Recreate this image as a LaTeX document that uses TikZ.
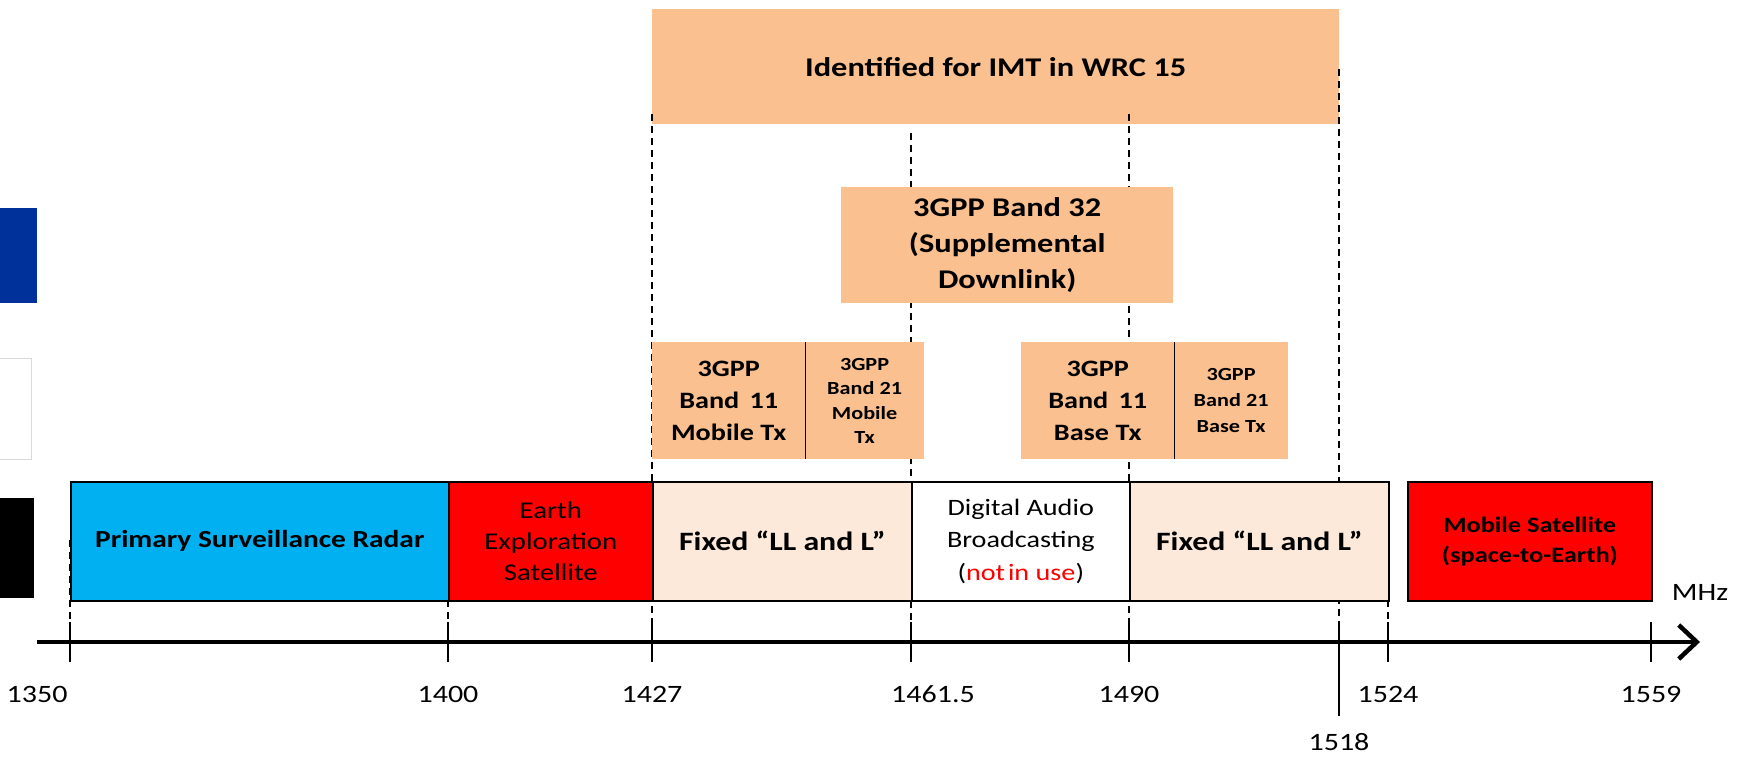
\documentclass[tikz,border=0pt]{standalone}
\usepackage{fontspec}
\setmainfont{Carlito}[FakeStretch=1.2]
\usetikzlibrary{arrows.meta}
\definecolor{imtorange}{HTML}{FAC090}
\definecolor{fixedpeach}{HTML}{FDE9D9}
\definecolor{radarblue}{HTML}{00B0F0}
\definecolor{legendblue}{HTML}{00309A}
\definecolor{nogo}{HTML}{FF0000}
\tikzset{
  band/.style={draw=black, line width=1.6pt, inner sep=0pt, anchor=north west, align=center, minimum height=119pt},
  gpp/.style={fill=imtorange, inner sep=0pt, anchor=north west, align=center},
  guide/.style={dash pattern=on 7pt off 5pt, line width=1.2pt},
  tickmark/.style={line width=1.6pt},
  freq/.style={font=\fontsize{25}{30}\selectfont}
}
\begin{document}
\begin{tikzpicture}[x=1pt,y=-1pt]
\clip (0,0) rectangle (1742,760);
% cut-off boxes at the left edge
\node[fill=legendblue, anchor=north west, minimum width=47pt, minimum height=95pt] (keyblue) at (-10,208) {};
\node[draw=black!15, line width=1.2pt, anchor=north west, minimum width=41pt, minimum height=101pt] (keywhite) at (-10,358) {};
\node[fill=black, anchor=north west, minimum width=44pt, minimum height=100pt] (keyblack) at (-10,498) {};

\node[gpp, minimum width=687pt, minimum height=115pt, font=\fontsize{27}{33}\bfseries] (imt) at (652,9) {Identified for IMT in WRC 15};

% axis positions
\foreach \n/\x in {1350/70,1400/448,1427/652,1461/911,1490/1129,1518/1339,1524/1388,1559/1651}
  \coordinate (f\n) at (\x,642);

% guide lines
\foreach \n/\top in {1350/540,1400/540,1427/114,1461/133,1490/114,1518/69,1524/540}
  \draw[guide] (f\n |- 0,\top) -- (f\n);

\node[gpp, minimum width=332pt, minimum height=116pt, font=\fontsize{27}{36}\bfseries] (b32) at (841,187) {3GPP Band 32\\(Supplemental\\Downlink)};
\node[gpp, minimum width=153pt, minimum height=117pt, font=\fontsize{23.5}{32}\bfseries] (b11m) at (652,342) {3GPP\\Band\, 11\\Mobile Tx};
\node[gpp, minimum width=118pt, minimum height=117pt, font=\fontsize{18.5}{24.5}\bfseries] (b21m) at (b11m.north east) {3GPP\\Band 21\\Mobile\\Tx};
\node[gpp, minimum width=153pt, minimum height=117pt, font=\fontsize{23.5}{32}\bfseries] (b11b) at (1021,342) {3GPP\\Band\, 11\\Base Tx};
\node[gpp, minimum width=113pt, minimum height=117pt, font=\fontsize{18.5}{26}\bfseries] (b21b) at (b11b.north east) {3GPP\\Band 21\\Base Tx};
\draw[line width=1.5pt] (b11m.north east) -- (b11m.south east);
\draw[line width=1.5pt] (b11b.north east) -- (b11b.south east);

\node[band, fill=radarblue, minimum width=378pt, font=\fontsize{24.5}{30}\bfseries] (psr) at (70,481) {Primary Surveillance Radar};
\node[band, fill=red, minimum width=204pt, font=\fontsize{24}{31}\selectfont] (ees) at (448,481) {Earth\\Exploration\\Satellite};
\node[band, fill=fixedpeach, minimum width=259pt, font=\fontsize{26.5}{32}\bfseries] (fix1) at (652,481) {Fixed “LL and L”};
\node[band, fill=white, minimum width=218pt, font=\fontsize{23.5}{32.5}\selectfont] (dab) at (911,481) {Digital Audio\\Broadcasting\\(\textcolor{nogo}{not\hspace{0.12em}in use})};
\node[band, fill=fixedpeach, minimum width=259pt, font=\fontsize{26.5}{32}\bfseries] (fix2) at (1129,481) {Fixed “LL and L”};
\node[band, fill=red, minimum width=244pt, font=\fontsize{22}{30}\bfseries] (mss) at (1407,481) {Mobile Satellite\\(space-to-Earth)};

% frequency axis
\coordinate (axstart) at (37,642);
\coordinate (axend) at (1700,642);
\draw[line width=4.5pt, -{Straight Barb[length=18pt,width=34pt]}] (axstart) -- (axend);
\foreach \n in {1350,1400,1427,1461,1490,1524,1559}
  \draw[tickmark] ([yshift=20pt]f\n) -- ([yshift=-20pt]f\n);
\draw[tickmark] ([yshift=20pt]f1518) -- ([yshift=-74pt]f1518);
\node[freq, anchor=east] (lab1350) at ([xshift=1pt,yshift=-52pt]f1350) {1350};
\foreach \n in {1400,1427,1490,1524,1559}
  \node[freq] (lab\n) at ([yshift=-52pt]f\n) {\n};
\node[freq] (lab1461) at ([xshift=22pt,yshift=-52pt]f1461) {1461.5};
\node[freq] (lab1518) at ([yshift=-100pt]f1518) {1518};
\node[freq] (mhz) at (1700,592) {MHz};
\end{tikzpicture}
\end{document}
